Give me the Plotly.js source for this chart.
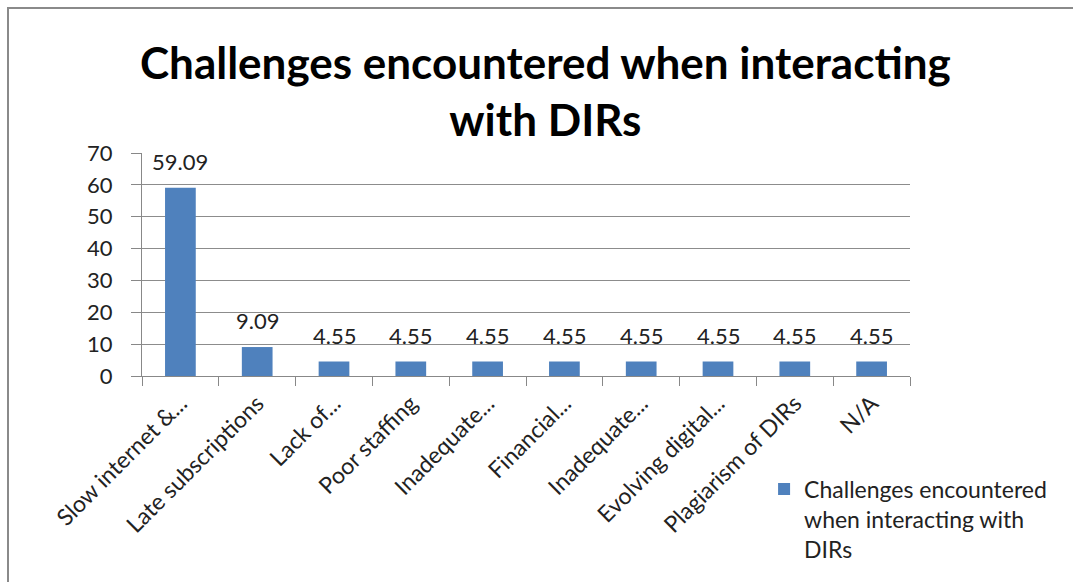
<!DOCTYPE html>
<html><head><meta charset="utf-8">
<script src="https://cdn.plot.ly/plotly-3.0.1.min.js"></script>
<style>
html,body{margin:0;padding:0;background:#fff;}
#wrap{position:relative;width:1073px;height:582px;overflow:hidden;}
#chart{width:1073px;height:582px;}
#frame{position:absolute;left:7px;top:7px;width:1080px;height:600px;border-top:2px solid #8a8a8a;border-left:2px solid #8a8a8a;pointer-events:none;}
</style></head>
<body>
<div id="wrap"><div id="chart"></div><div id="frame"></div></div>
<script>
const categoryIds = ["c1","c2","c3","c4","c5","c6","c7","c8","c9","c10"];
const tickLabels = ["Slow internet &...","Late subscriptions","Lack of...","Poor staffing","Inadequate...","Financial...","Inadequate...","Evolving digital...","Plagiarism of DIRs","N/A"];
const values = [59.09, 9.09, 4.55, 4.55, 4.55, 4.55, 4.55, 4.55, 4.55, 4.55];
const valueLabels = ["59.09","9.09","4.55","4.55","4.55","4.55","4.55","4.55","4.55","4.55"];
const seriesName = "Challenges encountered<br>when interacting with<br>DIRs";
const titleText = "Challenges encountered when interacting<br>with DIRs";

const FONT = "Lato, 'Open Sans', sans-serif";

const annotations = categoryIds.map((c, i) => ({
  x: c, y: values[i], xref: 'x', yref: 'y',
  text: valueLabels[i], showarrow: false,
  yanchor: 'bottom', yshift: 11,
  font: {family: FONT, size: 22, color: '#222'}
}));
annotations.push({
  text: titleText, xref: 'paper', yref: 'paper', x: 0.525, y: 1.279,
  xanchor: 'center', yanchor: 'middle', showarrow: false,
  font: {family: FONT, size: 44, color: '#000', weight: 'bold'}
});

const trace = {
  type: 'bar', x: categoryIds, y: values, name: seriesName,
  marker: {color: '#4f81bd'}, showlegend: true
};

const layout = {
  width: 1073, height: 582,
  margin: {l: 142, r: 163, t: 153, b: 203},
  paper_bgcolor: '#fff', plot_bgcolor: '#fff',
  bargap: 0.6,
  xaxis: {
    type: 'category', tickvals: categoryIds, ticktext: tickLabels,
    tickangle: -45, tickson: 'boundaries', ticks: 'outside', ticklen: 9,
    tickcolor: '#888', showline: true, linecolor: '#888', linewidth: 1,
    showgrid: false, tickfont: {family: FONT, size: 23, color: '#222'},
    ticklabelstandoff: 4
  },
  yaxis: {
    range: [0, 70], dtick: 10, showgrid: true, gridcolor: '#8c8c8c', gridwidth: 1,
    showline: true, linecolor: '#888', ticks: 'outside', ticklen: 10, tickcolor: '#888',
    tickfont: {family: FONT, size: 22, color: '#222'}, zeroline: false,
    ticklabelstandoff: 14
  },
  legend: {x: 0.81, y: -0.41, xanchor: 'left', yanchor: 'top', valign: 'top',
           font: {family: FONT, size: 23, color: '#222'}, bgcolor: 'rgba(0,0,0,0)'},
  annotations: annotations
};

Plotly.newPlot('chart', [trace], layout, {displayModeBar: false, staticPlot: true});
</script>
</body></html>
